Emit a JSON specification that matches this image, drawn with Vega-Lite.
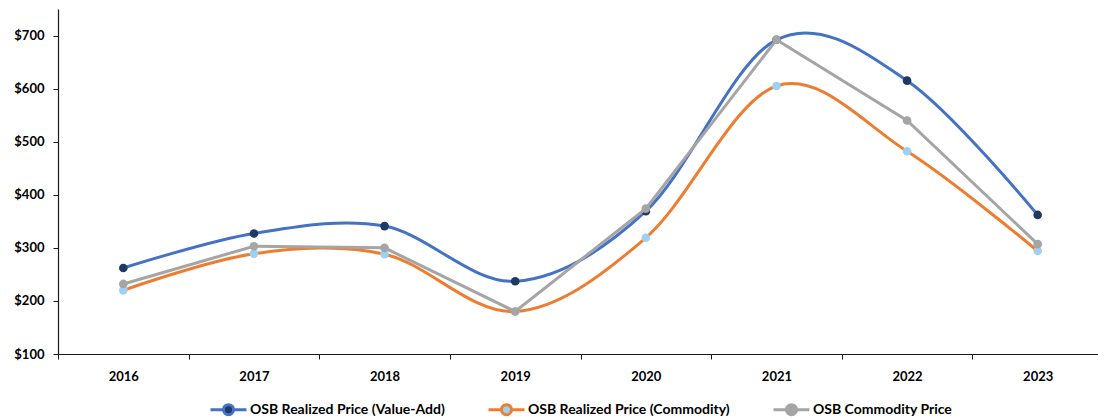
{
  "$schema": "https://vega.github.io/schema/vega-lite/v6.json",
  "width": 1045,
  "height": 345,
  "autosize": {"type": "none"},
  "padding": {"left": 58, "top": 9, "right": 0, "bottom": 66},
  "background": "white",
  "data": {
    "values": [
      {"year": "2016", "series": "OSB Realized Price (Value-Add)", "price": 262},
      {"year": "2017", "series": "OSB Realized Price (Value-Add)", "price": 327},
      {"year": "2018", "series": "OSB Realized Price (Value-Add)", "price": 341},
      {"year": "2019", "series": "OSB Realized Price (Value-Add)", "price": 237},
      {"year": "2020", "series": "OSB Realized Price (Value-Add)", "price": 369},
      {"year": "2021", "series": "OSB Realized Price (Value-Add)", "price": 692},
      {"year": "2022", "series": "OSB Realized Price (Value-Add)", "price": 615},
      {"year": "2023", "series": "OSB Realized Price (Value-Add)", "price": 362},
      {"year": "2016", "series": "OSB Realized Price (Commodity)", "price": 220},
      {"year": "2017", "series": "OSB Realized Price (Commodity)", "price": 289},
      {"year": "2018", "series": "OSB Realized Price (Commodity)", "price": 288},
      {"year": "2019", "series": "OSB Realized Price (Commodity)", "price": 180},
      {"year": "2020", "series": "OSB Realized Price (Commodity)", "price": 319},
      {"year": "2021", "series": "OSB Realized Price (Commodity)", "price": 605},
      {"year": "2022", "series": "OSB Realized Price (Commodity)", "price": 482},
      {"year": "2023", "series": "OSB Realized Price (Commodity)", "price": 294},
      {"year": "2016", "series": "OSB Commodity Price", "price": 232},
      {"year": "2017", "series": "OSB Commodity Price", "price": 303},
      {"year": "2018", "series": "OSB Commodity Price", "price": 300},
      {"year": "2019", "series": "OSB Commodity Price", "price": 180},
      {"year": "2020", "series": "OSB Commodity Price", "price": 374},
      {"year": "2021", "series": "OSB Commodity Price", "price": 692},
      {"year": "2022", "series": "OSB Commodity Price", "price": 540},
      {"year": "2023", "series": "OSB Commodity Price", "price": 307}
    ]
  },
  "encoding": {
    "x": {
      "field": "year",
      "type": "ordinal",
      "scale": {"type": "band", "paddingInner": 0, "paddingOuter": 0},
      "axis": {
        "title": null,
        "labelAngle": 0,
        "labelFont": "Lato",
        "labelFontWeight": "bold",
        "labelFontSize": 13,
        "labelColor": "#000000",
        "labelPadding": 11,
        "tickBand": "extent",
        "tickSize": 5,
        "tickColor": "#1a1a1a",
        "domainColor": "#1a1a1a",
        "domainWidth": 1.2,
        "grid": false
      }
    },
    "y": {
      "field": "price",
      "type": "quantitative",
      "scale": {"domain": [100, 750], "nice": false, "zero": false},
      "axis": {
        "title": null,
        "values": [100, 200, 300, 400, 500, 600, 700],
        "format": "$,.0f",
        "labelFont": "Lato",
        "labelFontWeight": "bold",
        "labelFontSize": 13,
        "labelColor": "#000000",
        "labelPadding": 9,
        "tickSize": 5,
        "tickColor": "#1a1a1a",
        "domainColor": "#1a1a1a",
        "domainWidth": 1.2,
        "grid": false
      }
    }
  },
  "layer": [
    {
      "transform": [{"filter": "datum.series === 'OSB Realized Price (Value-Add)'"}],
      "mark": {"type": "line", "interpolate": "cardinal", "strokeWidth": 3},
      "encoding": {
        "color": {
          "field": "series",
          "type": "nominal",
          "scale": {
            "domain": ["OSB Realized Price (Value-Add)", "OSB Realized Price (Commodity)", "OSB Commodity Price"],
            "range": ["#4472C4", "#ED7D31", "#A5A5A5"]
          },
          "legend": {
            "title": null,
            "orient": "bottom",
            "direction": "horizontal",
            "offset": 7,
            "labelFont": "Lato",
            "labelFontWeight": "bold",
            "labelFontSize": 14,
            "labelLimit": 0,
            "labelColor": "#000000",
            "labelOffset": 2,
            "columnPadding": 37,
            "symbolType": "M-1,0L-0.28,0M0.28,0L1,0M0.28,0A0.28,0.28,0,1,1,-0.28,0A0.28,0.28,0,1,1,0.28,0Z",
            "symbolSize": 1296,
            "symbolStrokeWidth": 3,
            "encode": {
              "symbols": {
                "update": {
                  "fill": {"signal": "datum.value === 'OSB Realized Price (Value-Add)' ? '#1F3864' : datum.value === 'OSB Realized Price (Commodity)' ? '#9DD1F1' : '#A5A5A5'"},
                  "fillOpacity": {"value": 1}
                }
              }
            }
          }
        }
      }
    },
    {
      "transform": [{"filter": "datum.series === 'OSB Realized Price (Value-Add)'"}],
      "mark": {"type": "point", "filled": true, "size": 75, "color": "#1F3864", "opacity": 1}
    },
    {
      "transform": [{"filter": "datum.series === 'OSB Realized Price (Commodity)'"}],
      "mark": {"type": "line", "interpolate": "cardinal", "strokeWidth": 3},
      "encoding": {"color": {"field": "series", "type": "nominal"}}
    },
    {
      "transform": [{"filter": "datum.series === 'OSB Realized Price (Commodity)'"}],
      "mark": {"type": "point", "filled": true, "size": 75, "color": "#9DD1F1", "opacity": 1}
    },
    {
      "transform": [{"filter": "datum.series === 'OSB Commodity Price'"}],
      "mark": {"type": "line", "interpolate": "linear", "strokeWidth": 3},
      "encoding": {"color": {"field": "series", "type": "nominal"}}
    },
    {
      "transform": [{"filter": "datum.series === 'OSB Commodity Price'"}],
      "mark": {"type": "point", "filled": true, "size": 75, "color": "#A5A5A5", "opacity": 1}
    }
  ],
  "config": {
    "view": {"stroke": null},
    "legend": {"layout": {"bottom": {"anchor": "middle"}}}
  }
}
